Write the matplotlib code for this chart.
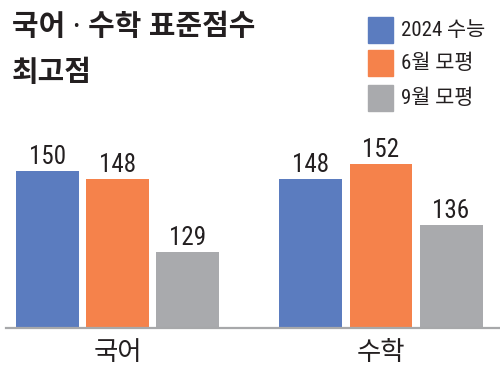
import matplotlib
matplotlib.use('Agg')
import matplotlib.pyplot as plt
from matplotlib.patches import Rectangle

# 데이터
categories = ['국어', '수학']
series_names = ['2024 수능', '6월 모평', '9월 모평']
suneung = [150, 148]
june = [148, 152]
sept = [129, 136]

colors = ['#5b7cbf', '#f5824b', '#a9aaad']
text_color = '#231f20'
kr = ['Noto Sans CJK KR', 'DejaVu Sans']
title_font = ['Noto Sans', 'Noto Sans CJK KR', 'DejaVu Sans']
num = ['Roboto Condensed', 'Noto Sans CJK KR', 'DejaVu Sans']

fig = plt.figure(figsize=(5, 3.79), dpi=100)
ax = fig.add_axes([6 / 500, 51 / 379, 494 / 500, 328 / 379])

base = 109.1
step = 0.2657
width = 0.239
series = [suneung, june, sept]
for i, vals in enumerate(series):
    xs = [c + (i - 1) * step for c in range(len(categories))]
    ax.bar(xs, vals, width=width, bottom=0, color=colors[i], edgecolor='none')
    for x, v in zip(xs, vals):
        ax.annotate(str(v), (x, v), xytext=(0, 5), textcoords='offset points',
                    ha='center', va='baseline', fontsize=18, color=text_color,
                    family=num)

ax.set_xlim(-0.423, 1.4516)
ax.set_ylim(base, base + 328 / 3.83)
ax.axhline(base, color='#a7a8aa', lw=1.6, clip_on=False)
for s in ax.spines.values():
    s.set_visible(False)
ax.set_xticks([])
ax.set_yticks([])
ax.patch.set_visible(False)

# 카테고리 라벨
for c, name in enumerate(categories):
    ax.annotate(name, (c, base), xytext=(0, -17.5), textcoords='offset points',
                ha='center', va='center', fontsize=19, color=text_color, family=kr)

# 제목
fig.text(12 / 500, 1 - 35 / 379, '국어 · 수학 표준점수', fontsize=20.8, fontweight='bold',
         color=text_color, family=title_font, va='baseline', ha='left')
fig.text(12 / 500, 1 - 81 / 379, '최고점', fontsize=20.8, fontweight='bold',
         color=text_color, family=title_font, va='baseline', ha='left')

# 범례
sq_tops = [17, 50, 85]
for name, col, top in zip(series_names, colors, sq_tops):
    fig.patches.append(Rectangle((368 / 500, 1 - (top + 26) / 379), 25 / 500, 26 / 379,
                                 transform=fig.transFigure, color=col, figure=fig))
    fig.text(401 / 500, 1 - (top + 13) / 379, name, fontsize=15, color=text_color,
             family=num, va='center', ha='left')

plt.savefig('out.png', dpi=100)
